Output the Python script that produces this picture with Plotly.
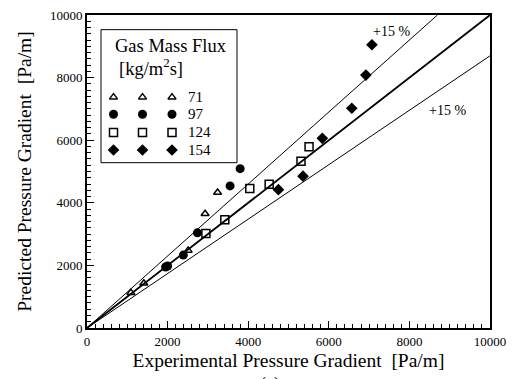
import plotly.graph_objects as go

# ---- data ----
g71_x = [1090, 1410, 2510, 2930, 3240]
g71_y = [1130, 1430, 2480, 3650, 4330]
g97_x = [1950, 2000, 2390, 2740, 3550, 3800]
g97_y = [1950, 1980, 2330, 3040, 4540, 5090]
g124_x = [2950, 3420, 4040, 4520, 5310, 5510]
g124_y = [3020, 3460, 4460, 4590, 5330, 5790]
g154_x = [4750, 5360, 5840, 6570, 6920, 7070]
g154_y = [4420, 4850, 6060, 7020, 8080, 9050]
flux_labels = ["71", "97", "124", "154"]
band = 1.15
axis_max = 10000
tick_vals = [0, 2000, 4000, 6000, 8000, 10000]
tick_text = ["0", "2000", "4000", "6000", "8000", "10000"]

FONT = "Liberation Serif"
W, H = 519, 379
L, R, T, B = 87, 490, 8, 328  # plot area in pixels

fig = go.Figure()

# reference lines
fig.add_trace(go.Scatter(x=[0, axis_max / band], y=[0, axis_max], mode="lines",
                         line=dict(color="black", width=1), hoverinfo="skip"))
fig.add_trace(go.Scatter(x=[0, axis_max], y=[0, axis_max / band], mode="lines",
                         line=dict(color="black", width=1), hoverinfo="skip"))
fig.add_trace(go.Scatter(x=[0, axis_max], y=[0, axis_max], mode="lines",
                         line=dict(color="black", width=1.8), hoverinfo="skip"))

styles = [
    dict(symbol="triangle-up-open", size=7, color="black", line=dict(color="black", width=1.5)),
    dict(symbol="circle", size=9, color="black", line=dict(width=0)),
    dict(symbol="square-open", size=8, color="black", line=dict(color="black", width=1.5)),
    dict(symbol="diamond", size=9, color="black", line=dict(width=0)),
]
series = [(g71_x, g71_y), (g97_x, g97_y), (g124_x, g124_y), (g154_x, g154_y)]
for (sx, sy), st, lab in zip(series, styles, flux_labels):
    fig.add_trace(go.Scatter(x=sx, y=sy, mode="markers", marker=st, name=lab))

# ---- legend drawn on overlay pixel axes ----
row_y = [92, 109.5, 128, 146]
col_x = [113.5, 142.5, 172]
for yy, st, lab in zip(row_y, styles, flux_labels):
    fig.add_trace(go.Scatter(x=col_x, y=[yy] * 3, mode="markers", marker=st,
                             xaxis="x2", yaxis="y2", hoverinfo="skip"))
    fig.add_annotation(x=186, y=yy, xref="x2", yref="y2", text=lab, showarrow=False,
                       xanchor="left", yanchor="middle",
                       font=dict(family=FONT, size=15, color="black"))
fig.add_shape(type="rect", x0=101, x1=237, y0=23, y1=159, xref="x2", yref="y2",
              line=dict(color="black", width=1), fillcolor="rgba(0,0,0,0)")
fig.add_annotation(x=113, y=40, xref="x2", yref="y2", text="Gas Mass Flux", showarrow=False,
                   xanchor="left", yanchor="middle", font=dict(family=FONT, size=18.5, color="black"))
fig.add_annotation(x=117, y=61, xref="x2", yref="y2", text="[kg/m<sup>2</sup>s]", showarrow=False,
                   xanchor="left", yanchor="middle", font=dict(family=FONT, size=18.5, color="black"))

# band labels
fig.add_annotation(x=391, y=25, xref="x2", yref="y2", text="+15 %", showarrow=False,
                   font=dict(family=FONT, size=14, color="black"))
fig.add_annotation(x=447, y=106, xref="x2", yref="y2", text="+15 %", showarrow=False,
                   font=dict(family=FONT, size=14, color="black"))
fig.add_annotation(x=(270 - L) / (R - L), y=(B - 386) / (B - T), xref="paper", yref="paper",
                   text="(a)", showarrow=False, yanchor="middle",
                   font=dict(family=FONT, size=18, color="black"))

axis_common = dict(range=[0, axis_max], tickvals=tick_vals, ticktext=tick_text,
                   ticks="inside", ticklen=7,
                   tickwidth=1, tickcolor="black", showgrid=False, zeroline=False,
                   showline=True, linecolor="black", linewidth=2, mirror=True,
                   tickfont=dict(family=FONT, size=13, color="black"),
                   minor=dict(dtick=200, ticks="inside", ticklen=4, tickwidth=1, tickcolor="black"))

fig.update_layout(
    width=W, height=H,
    margin=dict(l=L, r=W - R, t=T, b=H - B, pad=0),
    paper_bgcolor="white", plot_bgcolor="white",
    font=dict(family=FONT, color="black"),
    showlegend=False,
    xaxis=dict(**axis_common,
               title=dict(text="Experimental Pressure Gradient\u00a0\u00a0[Pa/m]",
                          font=dict(family=FONT, size=19.5, color="black"), standoff=6)),
    yaxis=dict(**axis_common,
               title=dict(text="Predicted Pressure Gradient\u00a0\u00a0[Pa/m]",
                          font=dict(family=FONT, size=19.5, color="black"), standoff=13)),
    xaxis2=dict(range=[L, R], overlaying="x", visible=False, fixedrange=True),
    yaxis2=dict(range=[B, T], overlaying="y", visible=False, fixedrange=True),
)

fig.write_html("out.html")
